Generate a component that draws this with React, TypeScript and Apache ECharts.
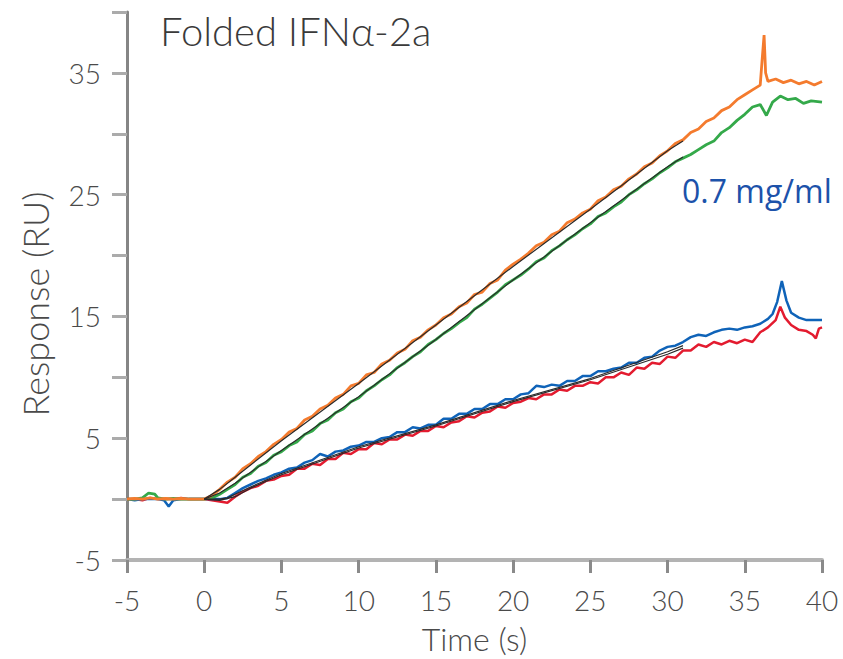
import React, { useEffect, useRef } from "react";
import * as echarts from "echarts";

const xTicks = { min: -5, max: 40, interval: 5 };
const yTicks = { min: -5, max: 40, interval: 5 };
const yLabelValues = [-5, 5, 15, 25, 35];

const titleText = "Folded IFNα-2a";
const concText = "0.7 mg/ml";
const xName = "Time (s)";
const yName = "Response (RU)";

const orangeData = [
  [-5, 0], [-4.5, 0.05], [-4, 0], [-3.5, 0.1], [-3, 0], [-2.5, 0.05], [-2, 0], [-1.5, 0.05], [-1, 0], [-0.5, 0], [0, 0],
  [0.5, 0.3], [1, 0.8], [1.5, 1.4], [2, 1.8], [2.5, 2.5], [3, 2.9], [3.5, 3.5], [4, 3.9], [4.5, 4.5], [5, 4.9],
  [5.5, 5.5], [6, 5.8], [6.5, 6.5], [7, 6.8], [7.5, 7.4], [8, 7.7], [8.5, 8.3], [9, 8.6], [9.5, 9.3], [10, 9.5],
  [10.5, 10.2], [11, 10.4], [11.5, 11.1], [12, 11.4], [12.5, 12.0], [13, 12.3], [13.5, 13.0], [14, 13.3], [14.5, 13.9],
  [15, 14.3], [15.5, 14.9], [16, 15.2], [16.5, 15.8], [17, 16.1], [17.5, 16.8], [18, 17.0], [18.5, 17.7], [19, 18.0],
  [19.5, 18.8], [20, 19.3], [20.5, 19.7], [21, 20.2], [21.5, 20.8], [22, 21.1], [22.5, 21.7], [23, 22.0], [23.5, 22.7],
  [24, 23.0], [24.5, 23.5], [25, 23.8], [25.5, 24.5], [26, 24.8], [26.5, 25.4], [27, 25.7], [27.5, 26.3], [28, 26.7],
  [28.5, 27.3], [29, 27.6], [29.5, 28.2], [30, 28.6], [30.5, 29.2], [31, 29.5], [31.5, 30.1], [32, 30.4], [32.5, 31.0],
  [33, 31.3], [33.5, 31.9], [34, 32.2], [34.5, 32.8], [35, 33.2], [35.5, 33.6], [36, 34.0], [36.15, 36.5],
  [36.25, 38.1], [36.35, 35.0], [36.5, 34.3], [37, 34.5], [37.5, 34.2], [38, 34.4], [38.5, 34.1], [39, 34.3], [39.5, 34.0], [40, 34.3],
];

const greenData = [
  [-5, 0], [-4.5, 0], [-4, 0.1], [-3.6, 0.5], [-3.2, 0.4], [-3, 0.1], [-2.5, 0], [-2, 0.05], [-1.5, 0], [-1, 0], [-0.5, 0], [0, 0],
  [0.5, 0.1], [1, 0.4], [1.5, 0.8], [2, 1.2], [2.5, 1.8], [3, 2.1], [3.5, 2.7], [4, 3.0], [4.5, 3.6], [5, 3.9],
  [5.5, 4.4], [6, 4.7], [6.5, 5.3], [7, 5.6], [7.5, 6.2], [8, 6.5], [8.5, 7.1], [9, 7.4], [9.5, 8.0], [10, 8.3],
  [10.5, 8.9], [11, 9.3], [11.5, 9.8], [12, 10.2], [12.5, 10.8], [13, 11.2], [13.5, 11.7], [14, 12.1], [14.5, 12.7],
  [15, 13.1], [15.5, 13.6], [16, 14.0], [16.5, 14.5], [17, 14.9], [17.5, 15.6], [18, 16.0], [18.5, 16.5], [19, 17.0],
  [19.5, 17.6], [20, 18.0], [20.5, 18.4], [21, 18.9], [21.5, 19.5], [22, 19.8], [22.5, 20.4], [23, 20.8], [23.5, 21.3],
  [24, 21.7], [24.5, 22.2], [25, 22.6], [25.5, 23.2], [26, 23.5], [26.5, 24.0], [27, 24.4], [27.5, 25.0], [28, 25.4],
  [28.5, 25.9], [29, 26.3], [29.5, 26.8], [30, 27.2], [30.5, 27.7], [31, 28.0], [31.5, 28.3], [32, 28.7], [32.5, 29.1],
  [33, 29.4], [33.5, 30.1], [34, 30.5], [34.5, 31.1], [35, 31.6], [35.5, 32.2], [36, 32.4], [36.4, 31.5],
  [36.8, 32.6], [37.3, 33.1], [37.8, 32.8], [38.3, 32.9], [38.8, 32.5], [39.3, 32.7], [40, 32.6],
];

const blueData = [
  [-5, 0], [-4.5, -0.1], [-4, 0], [-3.5, 0], [-3, 0], [-2.6, -0.1], [-2.3, -0.6], [-2.0, -0.1], [-1.5, 0], [-1, 0], [-0.5, 0], [0, 0],
  [0.5, 0], [1, 0], [1.5, 0.1], [2, 0.5], [2.5, 0.9], [3, 1.2], [3.5, 1.5], [4, 1.7], [4.5, 2.0], [5, 2.2], [5.5, 2.5],
  [6, 2.6], [6.5, 3.0], [7, 3.2], [7.5, 3.7], [8, 3.5], [8.5, 3.9], [9, 4.0], [9.5, 4.3], [10, 4.4], [10.5, 4.7],
  [11, 4.7], [11.5, 5.0], [12, 5.1], [12.5, 5.5], [13, 5.5], [13.5, 5.9], [14, 5.8], [14.5, 6.1], [15, 6.1], [15.5, 6.6],
  [16, 6.6], [16.5, 7.0], [17, 7.0], [17.5, 7.4], [18, 7.4], [18.5, 7.8], [19, 7.8], [19.5, 8.2], [20, 8.2], [20.5, 8.6],
  [21, 8.7], [21.5, 9.3], [22, 9.2], [22.5, 9.4], [23, 9.3], [23.5, 9.7], [24, 9.7], [24.5, 10.1], [25, 10.1], [25.5, 10.5],
  [26, 10.5], [26.5, 10.7], [27, 10.8], [27.5, 11.2], [28, 11.2], [28.5, 11.6], [29, 11.7], [29.5, 12.2], [30, 12.5],
  [30.5, 12.6], [31, 12.9], [31.5, 13.3], [32, 13.5], [32.5, 13.4], [33, 13.7], [33.5, 13.9], [34, 14.0], [34.5, 13.9],
  [35, 14.1], [35.5, 14.2], [36, 14.4], [36.5, 14.8], [36.8, 15.2], [37.1, 16.2], [37.4, 17.9], [37.7, 16.3], [38, 15.3],
  [38.5, 14.9], [39, 14.7], [39.5, 14.7], [40, 14.7],
];

const redData = [
  [-5, 0], [-4.5, 0], [-4, -0.1], [-3.5, 0.1], [-3, 0], [-2.5, 0], [-2, 0], [-1.5, 0.1], [-1, 0], [-0.5, 0], [0, 0],
  [0.5, -0.1], [1, -0.2], [1.5, -0.3], [2, 0.2], [2.5, 0.6], [3, 0.9], [3.5, 1.1], [4, 1.5], [4.5, 1.6], [5, 1.9],
  [5.5, 2.0], [6, 2.5], [6.5, 2.5], [7, 2.9], [7.5, 2.8], [8, 3.3], [8.5, 3.3], [9, 3.8], [9.5, 3.7], [10, 4.1],
  [10.5, 4.1], [11, 4.6], [11.5, 4.5], [12, 4.9], [12.5, 4.9], [13, 5.3], [13.5, 5.2], [14, 5.6], [14.5, 5.6], [15, 6.0],
  [15.5, 5.9], [16, 6.3], [16.5, 6.4], [17, 6.8], [17.5, 6.7], [18, 7.1], [18.5, 7.2], [19, 7.6], [19.5, 7.5], [20, 7.9],
  [20.5, 8.0], [21, 8.3], [21.5, 8.2], [22, 8.6], [22.5, 8.6], [23, 9.0], [23.5, 8.9], [24, 9.3], [24.5, 9.3], [25, 9.6],
  [25.5, 9.5], [26, 10.0], [26.5, 10.0], [27, 10.4], [27.5, 10.2], [28, 10.8], [28.5, 10.7], [29, 11.2], [29.5, 11.1],
  [30, 11.7], [30.5, 11.6], [31, 12.2], [31.5, 12.2], [32, 12.7], [32.5, 12.5], [33, 12.9], [33.5, 12.7], [34, 13.0],
  [34.5, 12.8], [35, 13.1], [35.5, 12.9], [36, 13.7], [36.5, 14.1], [37, 14.7], [37.3, 15.8], [37.6, 14.9], [38, 14.3],
  [38.5, 13.9], [39, 13.8], [39.4, 13.5], [39.6, 13.2], [39.8, 14.0], [40, 14.1],
];

const fitOrange = [[0, 0], [1, 0.8], [2, 1.8], [5, 4.8], [10, 9.5], [15, 14.3], [20, 19.1], [25, 23.8], [30, 28.6], [31, 29.4]];
const fitGreen = [[0, 0], [1, 0.5], [2, 1.3], [5, 4.0], [10, 8.4], [15, 13.1], [20, 18.0], [25, 22.7], [30, 27.3], [31, 28.1]];
const fitBlue = [[0, 0], [1, 0], [1.5, 0.1], [3, 1.0], [5, 2.1], [10, 4.3], [15, 6.1], [20, 8.1], [25, 9.9], [30, 12.1], [31, 12.6]];
const fitRed = [[0, 0], [1, -0.1], [2, 0.2], [3, 0.9], [5, 2.0], [10, 4.2], [15, 6.0], [20, 8.0], [25, 9.8], [30, 11.9], [31, 12.4]];

const lineSeries = (name: string, data: number[][], color: string, width: number, z: number) => ({
  name,
  type: "line",
  data,
  showSymbol: false,
  symbol: "none",
  lineStyle: { color, width },
  z,
});

export default function App() {
  const ref = useRef<HTMLDivElement>(null);
  useEffect(() => {
    if (!ref.current) return;
    const chart = echarts.init(ref.current, null, { renderer: "svg" });
    const tickFont = "Lato";
    const textColor = "#4a4a4a";
    chart.setOption({
      animation: false,
      backgroundColor: "#ffffff",
      grid: { left: 127, right: 21, top: 12, bottom: 96, containLabel: false },
      xAxis: {
        type: "value",
        min: xTicks.min,
        max: xTicks.max,
        interval: xTicks.interval,
        name: xName,
        nameLocation: "middle",
        nameGap: 62,
        nameTextStyle: { fontFamily: tickFont, fontWeight: 300, fontSize: 32, color: textColor },
        axisLine: { onZero: false, lineStyle: { color: "#b3b3b3", width: 4 } },
        axisTick: { show: true, inside: false, length: 13, lineStyle: { color: "#8a8a8a", width: 3 } },
        axisLabel: { margin: 26, fontFamily: tickFont, fontWeight: 300, fontSize: 28, color: textColor },
        splitLine: { show: false },
      },
      yAxis: {
        type: "value",
        min: yTicks.min,
        max: yTicks.max,
        interval: yTicks.interval,
        axisLine: { onZero: false, lineStyle: { color: "#858585", width: 3 } },
        axisTick: { show: true, inside: false, length: 15, lineStyle: { color: "#ababab", width: 3 } },
        axisLabel: {
          margin: 26,
          fontFamily: tickFont,
          fontWeight: 300,
          fontSize: 28,
          color: textColor,
          formatter: (v: number) => (yLabelValues.includes(v) ? String(v) : ""),
        },
        splitLine: { show: false },
      },
      graphic: [
        {
          type: "text",
          x: 160,
          y: 31,
          style: { text: titleText, font: "300 40px Lato", fill: "#3a3a3a", align: "left", verticalAlign: "middle" },
        },
        {
          type: "text",
          x: 682,
          y: 190,
          style: { text: concText, font: "32px 'Open Sans'", fill: "#1c52aa", align: "left", verticalAlign: "middle" },
        },
        {
          type: "text",
          x: 35,
          y: 304,
          rotation: Math.PI / 2,
          style: { text: yName, font: "300 36px Lato", fill: textColor, align: "center", verticalAlign: "middle" },
        },
      ],
      series: [
        lineSeries("red", redData, "#e31b2f", 2.5, 2),
        lineSeries("blue", blueData, "#0f63b8", 2.5, 3),
        lineSeries("green", greenData, "#34a94a", 2.8, 4),
        lineSeries("orange", orangeData, "#f47b2e", 2.8, 5),
        lineSeries("fitRed", fitRed, "#2a2a2a", 1.2, 6),
        lineSeries("fitBlue", fitBlue, "#2a2a2a", 1.2, 6),
        lineSeries("fitGreen", fitGreen, "#2a2a2a", 1.2, 6),
        lineSeries("fitOrange", fitOrange, "#2a2a2a", 1.2, 6),
      ],
    });
    return () => chart.dispose();
  }, []);
  return (
    <div
      ref={ref}
      style={{ position: "fixed", left: 0, top: 0, width: 843, height: 659, background: "#fff" }}
    />
  );
}
